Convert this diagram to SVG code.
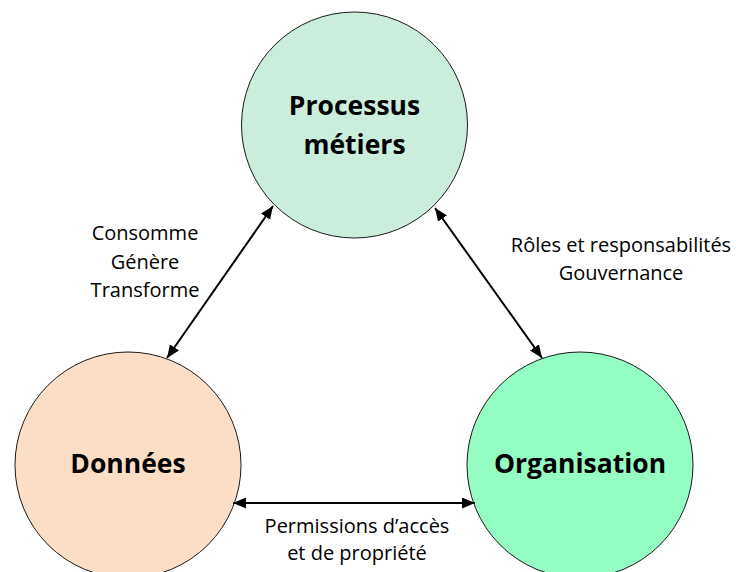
<svg xmlns="http://www.w3.org/2000/svg" width="736" height="572" viewBox="0 0 736 572">
<style>
.node{stroke:#1a1a1a;stroke-width:1}
.title{font-family:"Open Sans","Noto Sans",sans-serif;font-weight:bold;font-size:26.5px;fill:#000;text-anchor:middle}
.lbl{font-family:"Open Sans","Noto Sans",sans-serif;font-size:20px;fill:#000;text-anchor:middle}
.conn{stroke:#000;stroke-width:2;fill:none;marker-start:url(#ah);marker-end:url(#ah)}
</style>
<defs>
<marker id="ah" markerUnits="userSpaceOnUse" markerWidth="14" markerHeight="12" refX="13" refY="5.5" orient="auto-start-reverse">
<path d="M0,0 L13,5.5 L0,11 Z" fill="#000"/>
</marker>
</defs>
<rect width="736" height="572" fill="#fff"/>
<g id="processus">
<circle class="node" cx="354.5" cy="125" r="113" fill="#CBEEDC"/>
<text class="title" x="354.5" y="115">Processus</text>
<text class="title" x="354.5" y="154">métiers</text>
</g>
<g id="donnees">
<circle class="node" cx="128" cy="465" r="113" fill="#FCDEC6"/>
<text class="title" x="128" y="473">Données</text>
</g>
<g id="organisation">
<circle class="node" cx="580" cy="465" r="113" fill="#94FDC4"/>
<text class="title" x="580" y="473">Organisation</text>
</g>
<g id="connectors">
<line class="conn" x1="167" y1="358" x2="273" y2="206"/>
<line class="conn" x1="435" y1="208" x2="542" y2="358"/>
<line class="conn" x1="233" y1="503" x2="475" y2="503"/>
<text class="lbl" x="145" y="240">Consomme</text>
<text class="lbl" x="145" y="268.5">Génère</text>
<text class="lbl" x="145" y="297">Transforme</text>
<text class="lbl" x="621" y="252">Rôles et responsabilités</text>
<text class="lbl" x="621" y="280">Gouvernance</text>
<text class="lbl" x="357" y="533">Permissions d’accès</text>
<text class="lbl" x="357" y="560">et de propriété</text>
</g>
</svg>
